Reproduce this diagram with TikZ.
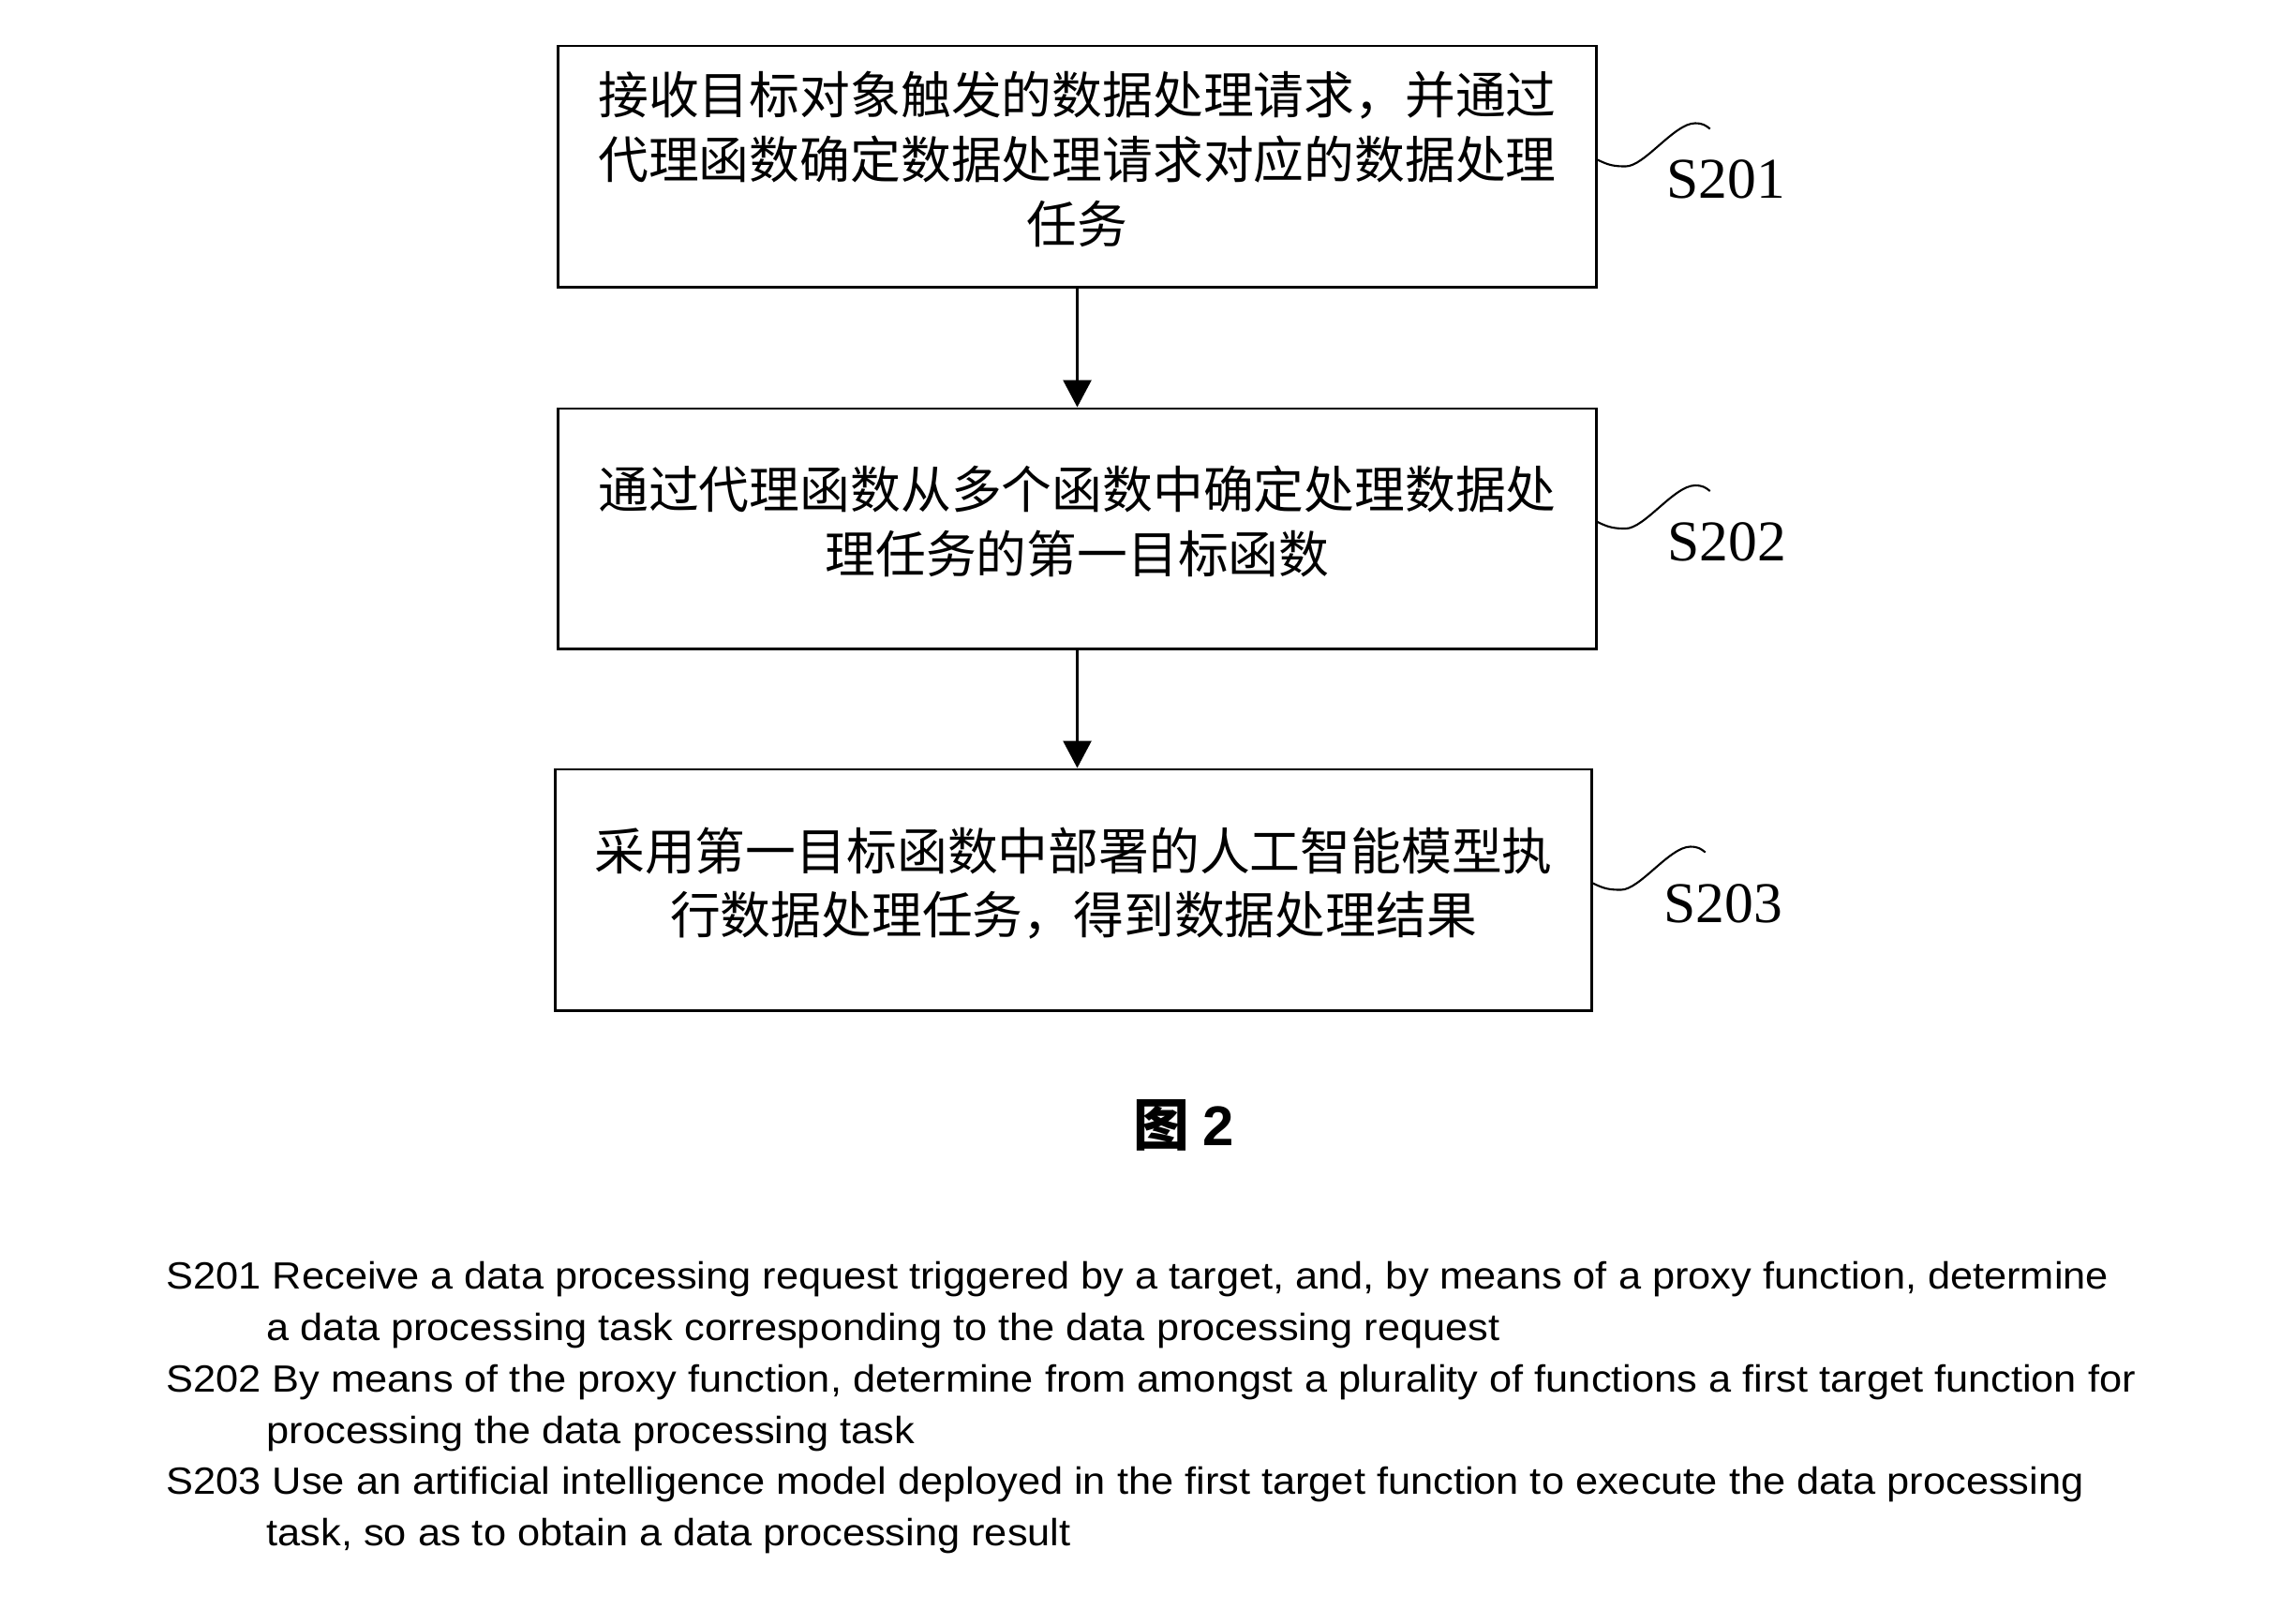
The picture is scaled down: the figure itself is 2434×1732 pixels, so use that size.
\documentclass[tikz,border=0pt]{standalone}
\usepackage{fontspec}
\setmainfont{Liberation Serif}
\newfontfamily\cjk{Noto Sans CJK SC}
\newfontfamily\arial{Liberation Sans}
\newfontfamily\arialw[FakeStretch=1.072]{Liberation Sans}
\usetikzlibrary{arrows.meta}
\begin{document}
\begin{tikzpicture}[x=0.01cm,y=-0.01cm,
  stepbox/.style={draw,line width=0.8pt,inner sep=0pt,align=center,text depth=5.5pt,
    font=\cjk\fontsize{15.3pt}{19.5pt}\selectfont},
  lbl/.style={font=\fontsize{17.5pt}{20pt}\selectfont,inner sep=0pt},
  eng/.style={font=\arialw\fontsize{11.5pt}{15.6pt}\selectfont,inner sep=0pt,anchor=base west},
  arr/.style={line width=0.8pt,-{Triangle[length=0.29cm,width=0.30cm]}},
  lead/.style={line width=0.6pt}]
\useasboundingbox (0,0) rectangle (2434,1732);
\node[stepbox,minimum width=11.07cm,minimum height=2.57cm] (b1) at (1149.5,177.5)
  {接收目标对象触发的数据处理请求，并通过\\代理函数确定数据处理请求对应的数据处理\\任务};
\node[stepbox,minimum width=11.07cm,minimum height=2.56cm] (b2) at (1149.5,564)
  {通过代理函数从多个函数中确定处理数据处\\理任务的第一目标函数};
\node[stepbox,minimum width=11.05cm,minimum height=2.57cm] (b3) at (1145.5,949.5)
  {采用第一目标函数中部署的人工智能模型执\\行数据处理任务，得到数据处理结果};
\draw[arr] (b1.south) -- (b2.north);
\draw[arr] (b2.south) -- (b2.south |- b3.north);
\node[lbl] (l1) at (1842,191) {S201};
\node[lbl] (l2) at (1843,578) {S202};
\node[lbl] (l3) at (1839,964) {S203};
\foreach \b in {b1,b2,b3}{
  \draw[lead] (\b.east) ++(0,-7) .. controls +(12,6) and +(-12,0) .. ++(30,7)
     .. controls +(20,0) and +(-22,0) .. ++(74,-46)
     .. controls +(8,0) and +(-5,-4) .. ++(16,6);
}
\node[font=\bfseries\fontsize{17pt}{20pt}\selectfont,inner sep=0pt] (fig) at (1263,1201) {{\cjk 图} {\arial 2}};
\node[eng] (e1) at (177,1375) {S201 Receive a data processing request triggered by a target, and, by means of a proxy function, determine};
\node[eng] (e2) at (284,1430) {a data processing task corresponding to the data processing request};
\node[eng] (e3) at (177,1485) {S202 By means of the proxy function, determine from amongst a plurality of functions a first target function for};
\node[eng] (e4) at (284,1540) {processing the data processing task};
\node[eng] (e5) at (177,1594) {S203 Use an artificial intelligence model deployed in the first target function to execute the data processing};
\node[eng] (e6) at (284,1649) {task, so as to obtain a data processing result};
\end{tikzpicture}
\end{document}
